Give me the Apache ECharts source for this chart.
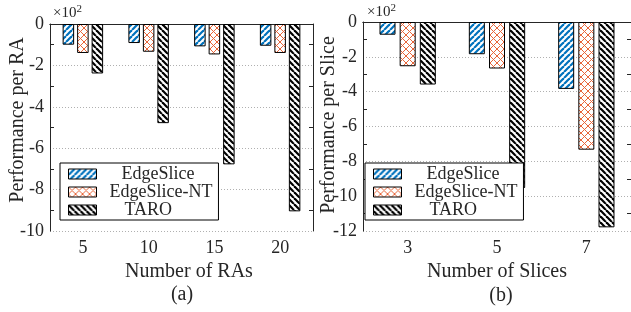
<!DOCTYPE html>
<html>
<head>
<meta charset="utf-8">
<script src="https://cdn.jsdelivr.net/npm/echarts@6/dist/echarts.min.js"></script>
<style>
  html, body { margin: 0; padding: 0; background: #fff; }
  #main { width: 631px; height: 312px; }
</style>
</head>
<body>
<div id="main"></div>
<script>
// values in units of 10^2
var seriesNames = ['EdgeSlice', 'EdgeSlice-NT', 'TARO'];

var categoriesA = ['5', '10', '15', '20'];
var edgeSliceA = [-1.00, -0.92, -1.08, -1.05];
var edgeSliceNTA = [-1.40, -1.34, -1.47, -1.40];
var taroA = [-2.39, -4.79, -6.78, -9.05];

var categoriesB = ['3', '5', '7'];
var edgeSliceB = [-0.73, -1.85, -3.84];
var edgeSliceNTB = [-2.54, -2.67, -7.33];
var taroB = [-3.59, -9.53, -11.79];

var FONT = '"Liberation Serif", "Times New Roman", serif';
var TXT = '#262626';

// hatch fills
function stripes(color, dir) {
    var p = 6;
    var c = document.createElement('canvas');
    c.width = p; c.height = p;
    var ctx = c.getContext('2d');
    ctx.fillStyle = '#fff';
    ctx.fillRect(0, 0, p, p);
    ctx.strokeStyle = color;
    ctx.lineWidth = 2.2;
    for (var k = -1; k <= 1; k++) {
        ctx.beginPath();
        if (dir === '/') {
            ctx.moveTo(k * p, p); ctx.lineTo(k * p + p, 0);
        } else {
            ctx.moveTo(k * p, 0); ctx.lineTo(k * p + p, p);
        }
        ctx.stroke();
    }
    return {image: c, repeat: 'repeat'};
}
function crosshatch(color) {
    var p = 7;
    var c = document.createElement('canvas');
    c.width = p; c.height = p;
    var ctx = c.getContext('2d');
    ctx.fillStyle = '#fff';
    ctx.fillRect(0, 0, p, p);
    ctx.strokeStyle = color;
    ctx.lineWidth = 1;
    for (var k = -1; k <= 1; k++) {
        ctx.beginPath();
        ctx.moveTo(k * p, p); ctx.lineTo(k * p + p, 0);
        ctx.moveTo(k * p, 0); ctx.lineTo(k * p + p, p);
        ctx.stroke();
    }
    return {image: c, repeat: 'repeat'};
}
var fills = [stripes('#0072BD', '/'), crosshatch('#E8663A'), stripes('#000', '\\')];

function xAxes(grid, cats, name, namePad) {
    return [{
        type: 'category', gridIndex: grid, data: cats, position: 'bottom',
        axisLine: {lineStyle: {color: TXT, width: 1}},
        axisTick: {inside: true, alignWithLabel: true, length: 4, lineStyle: {color: TXT}},
        axisLabel: {fontSize: 18, fontFamily: FONT, color: TXT, margin: 8},
        name: name, nameLocation: 'middle', nameGap: 26,
        nameTextStyle: {fontSize: 20, fontFamily: FONT, color: TXT, padding: namePad}
    }, {
        type: 'category', gridIndex: grid, data: cats, position: 'top',
        axisLine: {lineStyle: {color: TXT, width: 1}},
        axisTick: {show: false}, axisLabel: {show: false}
    }];
}
function yAxes(grid, min) {
    return [{
        type: 'value', gridIndex: grid, min: min, max: 0, interval: 2, position: 'left',
        axisLine: {show: true, lineStyle: {color: TXT, width: 1}},
        axisTick: {inside: true, length: 4, lineStyle: {color: TXT}},
        minorTick: {show: true, splitNumber: 2, length: 4, lineStyle: {color: TXT}},
        axisLabel: {fontSize: 18, fontFamily: FONT, color: TXT, margin: 6},
        splitLine: {show: true, lineStyle: {color: '#b0b0b0', type: [1, 2], width: 1}}
    }, {
        type: 'value', gridIndex: grid, min: min, max: 0, interval: 2, position: 'right',
        axisLine: {show: true, lineStyle: {color: TXT, width: 1}},
        axisTick: {inside: true, length: 4, lineStyle: {color: TXT}},
        minorTick: {show: true, splitNumber: 2, length: 4, lineStyle: {color: TXT}},
        axisLabel: {show: false}, splitLine: {show: false}
    }];
}

function bars(data, xi, yi, width) {
    return data.map(function (d, i) {
        return {
            name: seriesNames[i], type: 'bar', data: d,
            xAxisIndex: xi, yAxisIndex: yi,
            barWidth: width, barGap: '26%',
            itemStyle: {color: fills[i], borderColor: '#000', borderWidth: 1},
            animation: false
        };
    });
}

var legendKeys = {'EdgeSlice': 'a', 'EdgeSlice-NT': 'b', 'TARO': 'c'};
function legend(left, top) {
    return {
        left: left, top: top, orient: 'vertical',
        data: seriesNames, icon: 'rect', itemWidth: 28, itemHeight: 10, itemGap: 0,
        padding: [2, 6, 1, 8],
        backgroundColor: '#fff', borderColor: '#000', borderWidth: 1,
        itemStyle: {borderColor: '#000', borderWidth: 1},
        formatter: function (n) { return '{' + legendKeys[n] + '|' + n + '}'; },
        textStyle: {
            fontSize: 18, fontFamily: FONT, color: TXT, lineHeight: 18,
            rich: {
                a: {padding: [0, 0, 0, 20]},
                b: {padding: [0, 0, 0, 8]},
                c: {padding: [0, 0, 0, 23]}
            }
        }
    };
}

function exponent(x, y) {
    return {
        type: 'text', left: x, top: y,
        style: {
            text: '{m|×10}{e|2}',
            rich: {
                m: {fontSize: 15, fontFamily: FONT, fill: TXT},
                e: {fontSize: 11, fontFamily: FONT, fill: TXT, verticalAlign: 'top', padding: [0, 0, 7, 0]}
            }
        }
    };
}

function vname(text, x, y) {
    return {
        type: 'text', x: x, y: y, rotation: Math.PI / 2,
        style: {text: text, fontSize: 20, fontFamily: FONT, fill: TXT, align: 'center', verticalAlign: 'middle'}
    };
}

var chart = echarts.init(document.getElementById('main'), null, {renderer: 'canvas'});
chart.setOption({
    animation: false,
    grid: [
        {left: 50, top: 24, width: 263, height: 207},
        {left: 363, top: 22, width: 270, height: 209}
    ],
    xAxis: xAxes(0, categoriesA, 'Number of RAs', [0, 0, 0, 15])
        .concat(xAxes(1, categoriesB, 'Number of Slices', [0, 0, 0, 0])),
    yAxis: yAxes(0, -10).concat(yAxes(1, -12)),
    legend: [legend(60, 163), legend(365, 163)],
    series: bars([edgeSliceA, edgeSliceNTA, taroA], 0, 0, 11.5)
        .concat(bars([edgeSliceB, edgeSliceNTB, taroB], 2, 2, 16)),
    graphic: [
        exponent(53, 4),
        exponent(367, 3),
        vname('Performance per RA', 18, 120),
        vname('Performance per Slice', 329, 125),
        {type: 'text', x: 182, y: 295, style: {text: '(a)', fontSize: 20, fontFamily: FONT, fill: TXT, align: 'center', verticalAlign: 'middle'}},
        {type: 'text', x: 501, y: 296, style: {text: '(b)', fontSize: 20, fontFamily: FONT, fill: TXT, align: 'center', verticalAlign: 'middle'}}
    ]
});
</script>
</body>
</html>
